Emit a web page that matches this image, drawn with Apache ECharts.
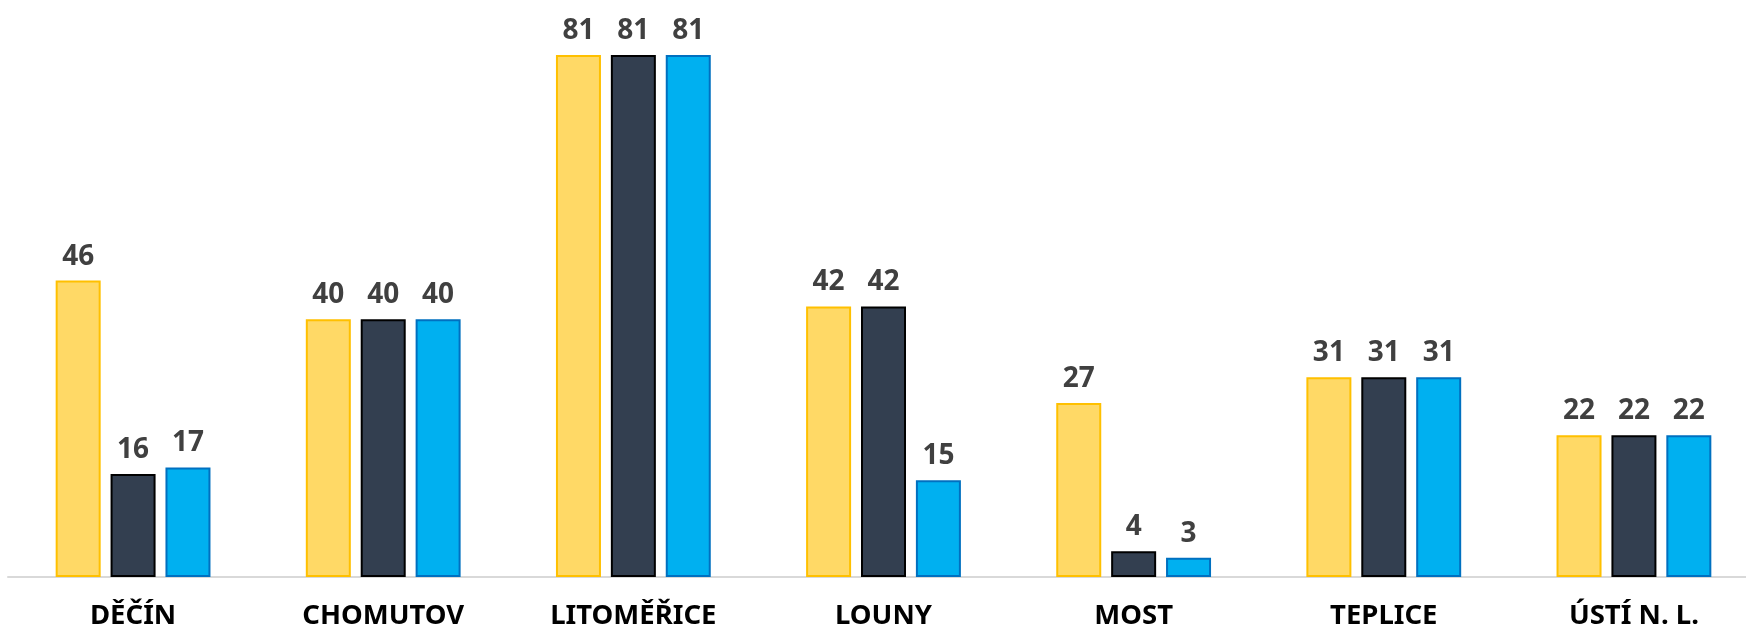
<!DOCTYPE html>
<html>
<head>
<meta charset="utf-8">
<script src="https://cdn.jsdelivr.net/npm/echarts@6/dist/echarts.min.js"></script>
<style>
  html, body { margin: 0; padding: 0; background: #fff; }
  #chart { width: 1746px; height: 632px; }
</style>
</head>
<body>
<div id="chart"></div>
<script>
const categories = ['DĚČÍN', 'CHOMUTOV', 'LITOMĚŘICE', 'LOUNY', 'MOST', 'TEPLICE', 'ÚSTÍ N. L.'];
const seriesA = [46, 40, 81, 42, 27, 31, 22];
const seriesB = [16, 40, 81, 42, 4, 31, 22];
const seriesC = [17, 40, 81, 15, 3, 31, 22];

const fontFamily = '"Noto Sans", "Open Sans", sans-serif';

function makeSeries(data, fill, border) {
  return {
    type: 'bar',
    data: data,
    barWidth: 45,
    barGap: '22%',
    itemStyle: { color: fill, borderColor: border, borderWidth: 2 },
    label: {
      show: true,
      position: 'top',
      distance: 10,
      color: '#404040',
      fontWeight: 'bold',
      fontSize: 28,
      fontFamily: fontFamily
    }
  };
}

const chart = echarts.init(document.getElementById('chart'));
chart.setOption({
  animation: false,
  grid: { left: 8, right: -13, top: 10, bottom: 55, outerBoundsMode: 'none' },
  xAxis: {
    type: 'category',
    data: categories,
    axisLine: { lineStyle: { color: '#D9D9D9', width: 2 } },
    axisTick: { show: false },
    axisLabel: {
      color: '#000',
      fontWeight: 'bold',
      fontSize: 27.5,
      fontFamily: fontFamily,
      margin: 25
    }
  },
  yAxis: {
    type: 'value',
    min: 0,
    max: 88,
    show: false,
    splitLine: { show: false }
  },
  series: [
    makeSeries(seriesA, '#FFD966', '#FFC000'),
    makeSeries(seriesB, '#333F50', '#000000'),
    makeSeries(seriesC, '#00B0F0', '#0070C0')
  ]
});
</script>
</body>
</html>
